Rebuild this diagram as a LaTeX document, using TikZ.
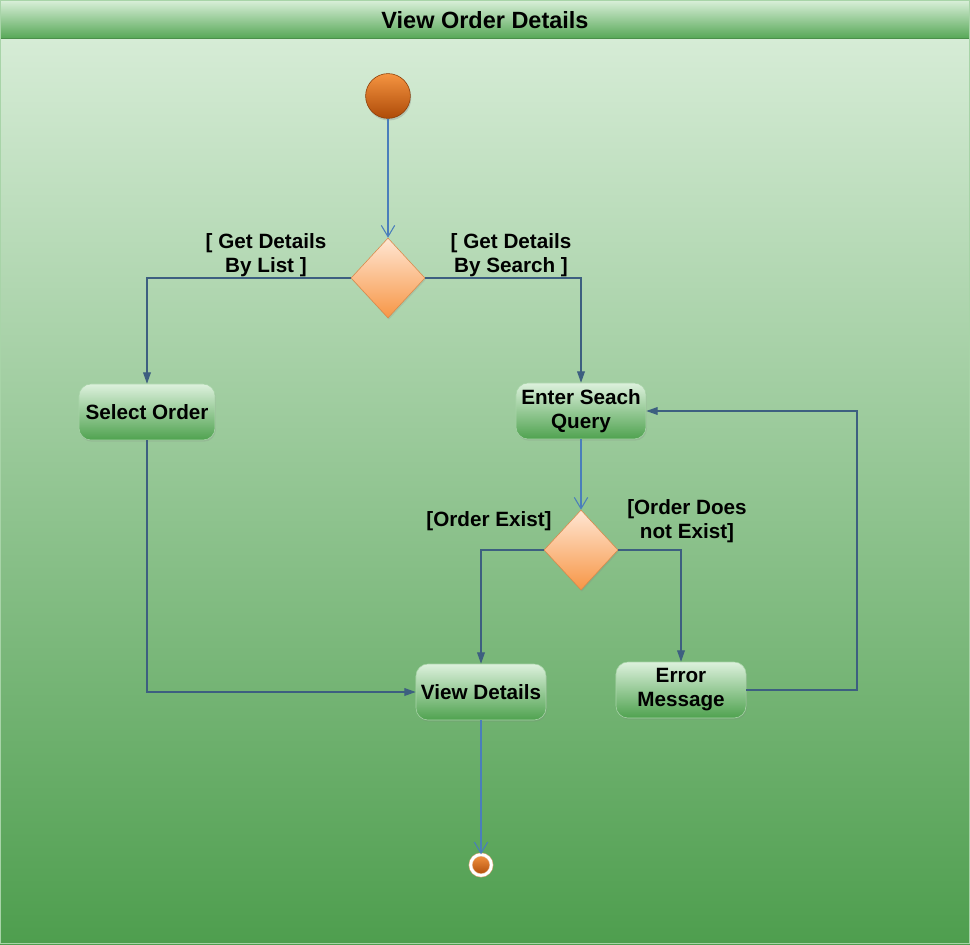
\documentclass[tikz,border=0pt]{standalone}
\usepackage{fontspec}
\setmainfont{Liberation Sans}
\usetikzlibrary{shapes.geometric,arrows.meta,shadows,positioning}

\definecolor{bandTop}{HTML}{DAF0DA}
\definecolor{bandBot}{HTML}{58A858}
\definecolor{bgTop}{HTML}{D6ECD6}
\definecolor{bgBot}{HTML}{4E9E4E}
\definecolor{actTop}{HTML}{DDF1DD}
\definecolor{actBot}{HTML}{4FA24F}
\definecolor{actLine}{HTML}{A8D4A8}
\definecolor{decTop}{HTML}{FFE6D3}
\definecolor{decBot}{HTML}{F79646}
\definecolor{decLine}{HTML}{D9894A}
\definecolor{dotTop}{HTML}{F59441}
\definecolor{dotBot}{HTML}{AE4B08}
\definecolor{flowLine}{HTML}{3D5F80}
\definecolor{openLine}{HTML}{4A7EBB}

\begin{document}
\begin{tikzpicture}[
     x=0.025cm, y=-0.025cm,
     % define styles
     txt/.style={
         font=\bfseries\fontsize{14.7}{17}\selectfont,
         align=center
     },
     action/.style={
         txt,
         draw=actLine,
         top color=actTop,
         bottom color=actBot,
         rounded corners=0.3cm,
         minimum width=3.25cm,
         minimum height=1.4cm,
         inner sep=2pt,
         drop shadow={opacity=0.2, shadow xshift=0.6pt, shadow yshift=-1.2pt}
     },
     decision/.style={
         diamond,
         draw=decLine,
         top color=decTop,
         bottom color=decBot,
         minimum width=1.85cm,
         minimum height=2cm,
         inner sep=0pt,
         drop shadow={opacity=0.2, shadow xshift=0.6pt, shadow yshift=-1.2pt}
     },
     startdot/.style={
         circle,
         draw=dotBot!80!black,
         top color=dotTop,
         bottom color=dotBot,
         minimum size=1.12cm,
         inner sep=0pt,
         drop shadow={opacity=0.3, shadow xshift=0.6pt, shadow yshift=-1.5pt}
     },
     enddot/.style={
         circle,
         draw=decLine!70,
         double=white,
         double distance=2pt,
         top color=dotTop,
         bottom color=dotBot,
         minimum size=0.52cm,
         inner sep=0pt
     },
     flow/.style={
         draw=flowLine,
         line width=0.75pt,
         -{Triangle[length=8pt,width=5.5pt]}
     },
     open/.style={
         draw=openLine,
         line width=0.75pt,
         -{Straight Barb[length=8pt,width=9.5pt]}
     }
]
\useasboundingbox (0,0) rectangle (970,944);
% background and title band
\shade[top color=bgTop, bottom color=bgBot] (0,38) rectangle (970,944);
\shade[top color=bandTop, bottom color=bandBot] (0,0) rectangle (970,38);
\draw[bandBot!85!black, line width=0.6pt] (0,38) -- (970,38);
\draw[actLine, line width=0.8pt] (0.5,0.5) rectangle (969.5,943.5);
\node[font=\bfseries\fontsize{16.7}{20}\selectfont] (title) at (485,20) {View Order Details};

% activity nodes
\node[startdot] (start) at (388,96) {};
\node[decision] (choose) at (388,278) {};
\node[action, minimum width=3.4cm] (select) at (147,412) {Select Order};
\node[action] (query) at (581,411) {\raisebox{-2pt}{Enter Seach}\\\raisebox{-2pt}{Query}};
\node[decision] (exists) at (581,550) {};
\node[action] (view) at (481,692) {View Details};
\node[action] (error) at (681,690) {\raisebox{-2.5pt}{Error}\\\raisebox{-2.5pt}{Message}};
\node[enddot] (end) at (481,865) {};

% guard labels
\node[txt] (byList) at (266,255) {[ Get Details\\By List ]};
\node[txt] (bySearch) at (511,255) {[ Get Details\\By Search ]};
\node[txt] (found) at (489,521) {[Order Exist]};
\node[txt] (notFound) at (687,521) {[Order Does\\not Exist]};

% connectors
\draw[open] (start) -- (choose);
\draw[flow] (choose.west) -| (select.north);
\draw[flow] (choose.east) -| (query.north);
\draw[open] (query) -- (exists);
\draw[flow] (exists.west) -| (view.north);
\draw[flow] (exists.east) -| (error.north);
\draw[flow] (select.south) |- (view.west);
\coordinate (retry) at (857,411);
\draw[flow] (error.east) -| (retry) -- (query.east);
\draw[open] (view) -- (end);
\end{tikzpicture}
\end{document}
